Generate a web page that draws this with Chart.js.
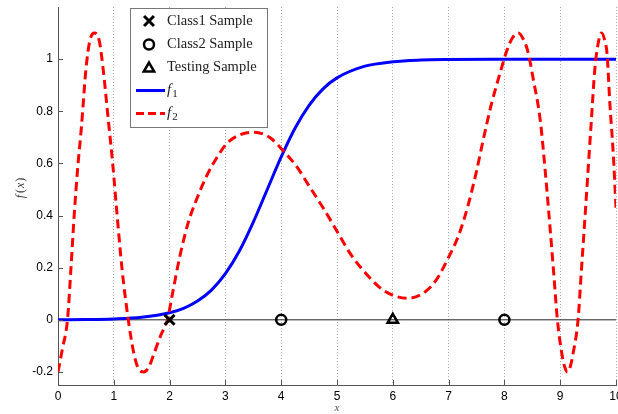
<!DOCTYPE html>
<html>
<head>
<meta charset="utf-8">
<script src="https://cdn.jsdelivr.net/npm/chart.js"></script>
<style>
  html, body { margin: 0; padding: 0; background: #fff; }
  canvas { display: block; }
</style>
</head>
<body>
<canvas id="myChart" width="618" height="414"></canvas>
<script>
// f1: smooth step between the two classes
var f1X = [0, 0.5, 1, 1.5, 2, 2.25, 2.5, 2.75, 3, 3.25, 3.5, 3.75, 4, 4.25, 4.5, 4.75, 5, 5.5, 6, 6.5, 7, 8, 9, 10];
var f1Y = [0.0005, 0.0013, 0.0036, 0.0098, 0.027, 0.044, 0.072, 0.114, 0.177, 0.264, 0.375, 0.5, 0.625, 0.736, 0.823, 0.886, 0.928, 0.973, 0.99, 0.9965, 0.9987, 0.9998, 1, 1];

// f2: wiggly fit that also passes through the samples
var f2X = [0, 0.08, 0.17, 0.23, 0.29, 0.35, 0.42, 0.5, 0.57, 0.65,
           0.74, 0.81, 0.9, 0.98, 1.06, 1.15, 1.26, 1.36, 1.45, 1.54,
           1.63, 1.72, 1.84, 1.96, 2.06, 2.18, 2.33, 2.48, 2.66, 2.84,
           3.02, 3.26, 3.52, 3.79, 4.03, 4.27, 4.51, 4.75, 5.0, 5.25,
           5.55, 5.82, 6.06, 6.27, 6.53, 6.77, 7.0, 7.19, 7.35, 7.5,
           7.62, 7.77, 7.92, 8.04, 8.14, 8.25, 8.33, 8.42, 8.52, 8.64,
           8.73, 8.8, 8.88, 8.95, 9.03, 9.08, 9.13, 9.18, 9.23, 9.32,
           9.38, 9.44, 9.5, 9.56, 9.62, 9.68, 9.74, 9.8, 9.84, 9.89,
           9.95, 10];
var f2Y = [-0.2, -0.11, 0, 0.19, 0.4, 0.575, 0.74, 0.96, 1.07, 1.1,
           1.07, 0.96, 0.77, 0.6, 0.4, 0.19, 0, -0.13, -0.19, -0.2,
           -0.18, -0.13, -0.06, 0, 0.11, 0.24, 0.37, 0.46, 0.55, 0.62,
           0.675, 0.71, 0.72, 0.7, 0.65, 0.59, 0.51, 0.43, 0.34, 0.25,
           0.17, 0.115, 0.09, 0.083, 0.1, 0.15, 0.24, 0.33, 0.44, 0.57,
           0.69, 0.83, 0.945, 1.03, 1.08, 1.1, 1.08, 1.03, 0.92, 0.77,
           0.575, 0.4, 0.19, 0, -0.13, -0.18, -0.2, -0.18, -0.13, 0,
           0.19, 0.38, 0.575, 0.77, 0.96, 1.06, 1.1, 1.07, 1.02, 0.83,
           0.64, 0.43];

// samples on the x axis
var class1X = [2];
var class2X = [4, 8];
var testX = [6];

var xTicks = [0, 1, 2, 3, 4, 5, 6, 7, 8, 9, 10];
var yTicks = [-0.2, 0, 0.2, 0.4, 0.6, 0.8, 1];

function toPoints(xs, ys) {
    return xs.map(function (x, i) { return { x: x, y: ys[i] }; });
}
function onAxis(xs) {
    return xs.map(function (x) { return { x: x, y: 0 }; });
}

var serif = '"Liberation Serif", "Times New Roman", serif';
var sans = '"Liberation Sans", Arial, sans-serif';

// marker looks, shared by the chart and the legend
var crossMark = { pointStyle: 'crossRot', radius: 7, borderWidth: 3, rotation: 0 };
var circleMark = { pointStyle: 'circle', radius: 5, borderWidth: 2.5, rotation: 0 };
var triMark = { pointStyle: 'triangle', radius: 6, borderWidth: 2.5, rotation: 0 };

// draws text made of several font runs, returns end x
function drawRuns(ctx, runs, x, y) {
    runs.forEach(function (r) {
        ctx.font = r.font;
        ctx.fillText(r.text, x, y + (r.dy || 0));
        x += ctx.measureText(r.text).width + (r.gap || 0);
    });
    return x;
}
function runsWidth(ctx, runs) {
    var w = 0;
    runs.forEach(function (r) {
        ctx.font = r.font;
        w += ctx.measureText(r.text).width + (r.gap || 0);
    });
    return w;
}

function markerDataset(label, xs, mark) {
    return {
        label: label,
        data: onAxis(xs),
        showLine: false,
        pointStyle: mark.pointStyle,
        pointRadius: mark.radius,
        pointHoverRadius: mark.radius,
        pointBorderWidth: mark.borderWidth,
        pointBorderColor: '#000',
        pointBackgroundColor: 'rgba(0,0,0,0)',
        order: -1
    };
}

// keep the plot box fixed: tick labels may hang past its edges
function noPadding(s) {
    s.paddingLeft = 0;
    s.paddingRight = 0;
    s.paddingTop = 0;
    s.paddingBottom = 0;
}

var decorations = {
    id: 'decorations',
    afterDraw: function (chart) {
        var ctx = chart.ctx;
        var area = chart.chartArea;
        var xs = chart.scales.x, ys = chart.scales.y;

        // small inward tick marks
        ctx.save();
        ctx.strokeStyle = '#555';
        ctx.lineWidth = 1;
        ctx.beginPath();
        xTicks.forEach(function (v) {
            var px = Math.round(xs.getPixelForValue(v)) + 0.5;
            ctx.moveTo(px, area.bottom);
            ctx.lineTo(px, area.bottom - 5);
        });
        yTicks.forEach(function (v) {
            var py = Math.round(ys.getPixelForValue(v)) + 0.5;
            ctx.moveTo(area.left, py);
            ctx.lineTo(area.left + 5, py);
        });
        ctx.stroke();

        // axis titles
        ctx.fillStyle = '#333';
        ctx.textBaseline = 'middle';
        ctx.textAlign = 'left';
        var yRuns = [
            { text: 'f', font: 'italic 12px ' + serif, gap: 2 },
            { text: '(', font: '12px ' + serif, gap: 1 },
            { text: 'x', font: 'italic 12px ' + serif, gap: 1 },
            { text: ')', font: '12px ' + serif }
        ];
        var w = runsWidth(ctx, yRuns);
        ctx.save();
        ctx.translate(21, 188);
        ctx.rotate(-Math.PI / 2);
        drawRuns(ctx, yRuns, -w / 2, 0);
        ctx.restore();

        ctx.font = 'italic 11px ' + serif;
        ctx.textAlign = 'center';
        ctx.fillStyle = '#555';
        ctx.fillText('x', (area.left + area.right) / 2, 408);

        // legend box
        var bx = 130.5, by = 8.5, bw = 137, bh = 119;
        ctx.fillStyle = '#fff';
        ctx.fillRect(bx, by, bw, bh);
        ctx.strokeStyle = '#777';
        ctx.lineWidth = 1;
        ctx.strokeRect(bx, by, bw, bh);

        var mx = 149, tx = 167;
        var rows = [21, 44.5, 67.5, 90.5, 113.5];
        ctx.strokeStyle = '#000';
        ctx.fillStyle = 'rgba(0,0,0,0)';
        [crossMark, circleMark, triMark].forEach(function (m, i) {
            ctx.lineWidth = m.borderWidth;
            Chart.helpers.drawPoint(ctx, m, mx, i === 2 ? rows[i] + 1 : rows[i]);
        });

        ctx.lineWidth = 3;
        ctx.strokeStyle = '#0000ff';
        ctx.beginPath();
        ctx.moveTo(136, rows[3]);
        ctx.lineTo(165, rows[3]);
        ctx.stroke();
        ctx.strokeStyle = '#ff0000';
        ctx.setLineDash([8, 4]);
        ctx.beginPath();
        ctx.moveTo(136, rows[4]);
        ctx.lineTo(165, rows[4]);
        ctx.stroke();
        ctx.setLineDash([]);

        ctx.fillStyle = '#222';
        ctx.textAlign = 'left';
        ctx.font = '14.5px ' + serif;
        ctx.fillText('Class1 Sample', tx, rows[0]);
        ctx.fillText('Class2 Sample', tx, rows[1]);
        ctx.fillText('Testing Sample', tx, rows[2]);
        drawRuns(ctx, [
            { text: 'f', font: 'italic 15px ' + serif, gap: 1 },
            { text: '1', font: '11px ' + serif, dy: 4 }
        ], tx, rows[3]);
        drawRuns(ctx, [
            { text: 'f', font: 'italic 15px ' + serif, gap: 1 },
            { text: '2', font: '11px ' + serif, dy: 4 }
        ], tx, rows[4]);
        ctx.restore();
    }
};

new Chart('myChart', {
    type: 'line',
    data: {
        datasets: [{
            label: 'f2',
            data: toPoints(f2X, f2Y),
            borderColor: '#ff0000',
            borderWidth: 3,
            borderDash: [9, 5],
            pointRadius: 0,
            cubicInterpolationMode: 'monotone',
            order: 0
        }, {
            label: 'f1',
            data: toPoints(f1X, f1Y),
            borderColor: '#0000ff',
            borderWidth: 3,
            pointRadius: 0,
            cubicInterpolationMode: 'monotone',
            order: 1
        },
        markerDataset('Class1 Sample', class1X, crossMark),
        markerDataset('Class2 Sample', class2X, circleMark),
        markerDataset('Testing Sample', testX, triMark),
        {
            label: 'zero',
            data: onAxis([0, 10]),
            borderColor: '#222',
            borderWidth: 1,
            pointRadius: 0,
            order: 3
        }]
    },
    options: {
        responsive: false,
        animation: false,
        devicePixelRatio: 1,
        layout: { autoPadding: false, padding: { top: 7, right: 2, left: 0, bottom: 0 } },
        plugins: {
            legend: { display: false },
            tooltip: { enabled: false }
        },
        scales: {
            x: {
                type: 'linear',
                min: 0,
                max: 10,
                afterBuildTicks: function (s) { s.ticks = xTicks.map(function (v) { return { value: v }; }); },
                afterFit: function (s) { s.height = 29; noPadding(s); },
                grid: { color: '#aaa', lineWidth: 1, drawTicks: false },
                border: { color: '#555', width: 1, dash: [1, 2] },
                ticks: {
                    color: '#000',
                    font: { family: sans, size: 12 },
                    padding: 4,
                    maxRotation: 0,
                    autoSkip: false
                }
            },
            y: {
                type: 'linear',
                min: -0.25,
                max: 1.2,
                afterBuildTicks: function (s) { s.ticks = yTicks.map(function (v) { return { value: v }; }); },
                afterFit: function (s) { s.width = 58; noPadding(s); },
                grid: { display: false, drawTicks: false },
                border: { color: '#555', width: 1 },
                ticks: {
                    color: '#000',
                    font: { family: sans, size: 12 },
                    padding: 5,
                    callback: function (v) { return String(Math.round(v * 10) / 10); }
                }
            }
        }
    },
    plugins: [decorations]
});
</script>
</body>
</html>
